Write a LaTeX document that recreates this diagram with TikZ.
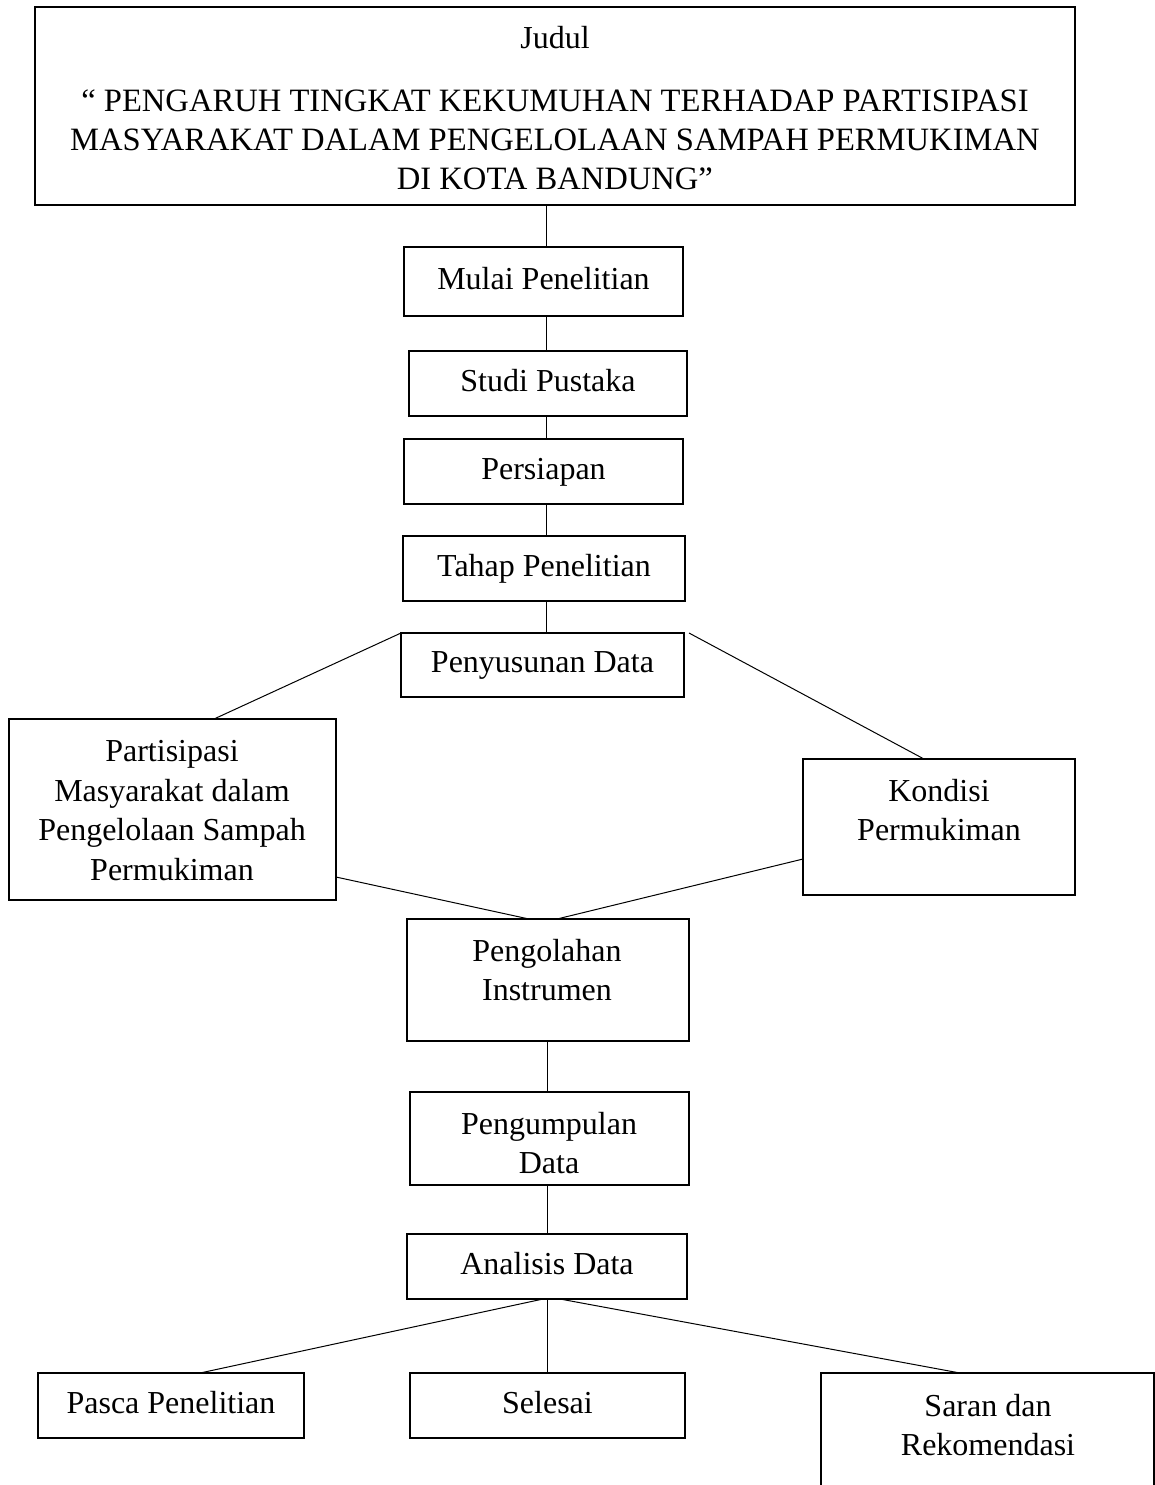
\documentclass[tikz,border=0pt]{standalone}
\usepackage{fontspec}
\setmainfont{Liberation Serif}
\usetikzlibrary{calc}
\begin{document}
\begin{tikzpicture}[x=0.5pt,y=-0.5pt,
  lbl/.style={font=\fontsize{16}{19.75}\selectfont, align=center,
    execute at begin node=\strut, execute at end node=\strut},
  box/.style={lbl, draw, line width=0.7pt, rectangle, inner sep=0pt, outer sep=0pt},
  txt/.style={lbl, inner sep=0pt},
  conn/.style={line width=0.5pt}]
\useasboundingbox (0,0) rectangle (1155,1485);
\clip (0,0) rectangle (1155,1485);
\coordinate (spine) at (546,0);

% title
\node[box, minimum width=520pt, minimum height=99pt] (title) at (555,106) {};
\node[txt] (judul) at (555,41) {Judul};
\node[txt, font=\fontsize{16.3}{19.6}\selectfont] (titletext) at (555,145.5) {“ PENGARUH TINGKAT KEKUMUHAN TERHADAP PARTISIPASI\\MASYARAKAT DALAM PENGELOLAAN SAMPAH PERMUKIMAN\\DI KOTA BANDUNG”};

% main column
\node[box, minimum width=139.5pt, minimum height=34.5pt] (mulai) at (543.5,281.5) {Mulai Penelitian};
\node[box, minimum width=139pt, minimum height=32.5pt] (studi) at (548,383.5) {Studi Pustaka};
\node[box, minimum width=139.5pt, minimum height=32.5pt] (persiapan) at (543.5,471.5) {Persiapan};
\node[box, minimum width=141pt, minimum height=32.5pt] (tahap) at (544,568.5) {Tahap Penelitian};
\node[box, minimum width=141.5pt, minimum height=32pt] (peny) at (542.5,665) {Penyusunan Data};

\node[box, minimum width=163.5pt, minimum height=90.5pt] (part) at (172.5,809.5) {};
\node[txt] (parttext) at (172,816.5) {Partisipasi\\Masyarakat dalam\\Pengelolaan Sampah\\Permukiman};
\node[box, minimum width=136pt, minimum height=68pt] (kond) at (939,827) {};
\node[txt] (kondtext) at (939,816) {Kondisi\\Permukiman};

\node[box, minimum width=141pt, minimum height=61pt] (pengol) at (548,980) {};
\node[txt] (pengoltext) at (547,976) {Pengolahan\\Instrumen};
\node[box, minimum width=139.5pt, minimum height=46.5pt] (pengum) at (549.5,1138.5) {};
\node[txt] (pengumtext) at (549,1149) {Pengumpulan\\Data};
\node[box, minimum width=140pt, minimum height=32.5pt] (analisis) at (547,1266.5) {Analisis Data};

\node[box, minimum width=133pt, minimum height=32.5pt] (pasca) at (171,1405.5) {Pasca Penelitian};
\node[box, minimum width=137.5pt, minimum height=32.5pt] (selesai) at (547.5,1405.5) {Selesai};
\node[box, minimum width=166.5pt, minimum height=73.5pt] (saran) at (987.5,1446.5) {};
\node[txt] (sarantext) at (988,1431) {Saran dan\\Rekomendasi};

% connectors
\draw[conn] (spine |- title.south) -- (spine |- mulai.north);
\draw[conn] (spine |- mulai.south) -- (spine |- studi.north);
\draw[conn] (spine |- studi.south) -- (spine |- persiapan.north);
\draw[conn] (spine |- persiapan.south) -- (spine |- tahap.north);
\draw[conn] (spine |- tahap.south) -- (spine |- peny.north);

\draw[conn] (peny.north west) -- ($(part.north west)+(205,0)$);
\draw[conn] ($(peny.north east)+(5,0)$) -- ($(kond.north west)+(121,0)$);
\draw[conn] ($(part.north east)+(0,158)$) -- ($(pengol.north west)+(122,0)$);
\draw[conn] ($(kond.north west)+(0,100)$) -- ($(pengol.north west)+(150,0)$);

\draw[conn] ($(pengol.south west)+(140,0)$) -- ($(pengum.north west)+(137,0)$);
\draw[conn] ($(pengum.south west)+(137,0)$) -- ($(analisis.north west)+(140,0)$);
\draw[conn] ($(analisis.south west)+(136,0)$) -- ($(pasca.north west)+(162,0)$);
\draw[conn] ($(analisis.south west)+(140,0)$) -- ($(selesai.north west)+(137,0)$);
\draw[conn] ($(analisis.south west)+(153,0)$) -- ($(saran.north west)+(139,0)$);
\end{tikzpicture}
\end{document}
